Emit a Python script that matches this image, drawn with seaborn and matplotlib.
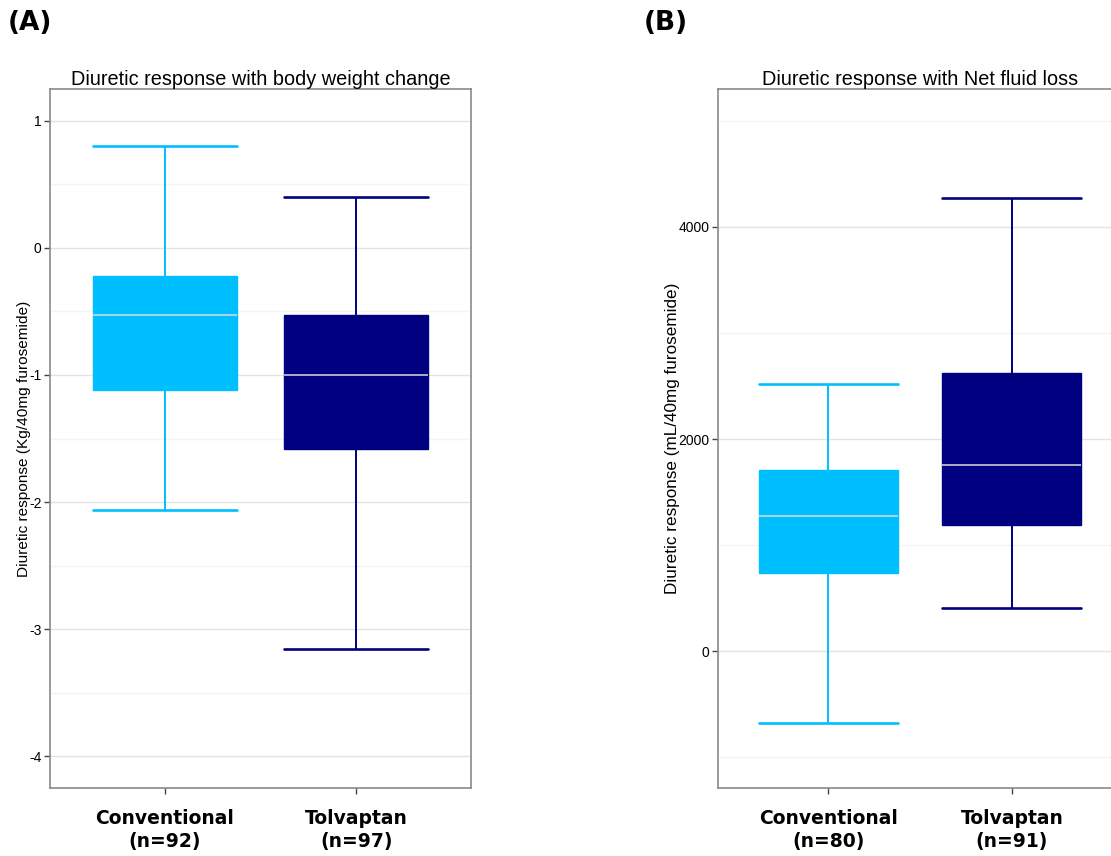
import seaborn as sns
import matplotlib.pyplot as plt
import pandas as pd
import numpy as np

# datos de las cajas (min, Q1, mediana, Q3, max)
grupos = ["Conventional", "Tolvaptan"]
etiquetas_a = ["Conventional\n(n=92)", "Tolvaptan\n(n=97)"]
etiquetas_b = ["Conventional\n(n=80)", "Tolvaptan\n(n=91)"]
peso_conv = [-2.06, -1.12, -0.53, -0.22, 0.80]
peso_tolv = [-3.16, -1.58, -1.00, -0.53, 0.40]
liq_conv = [-680, 736, 1274, 1712, 2520]
liq_tolv = [406, 1189, 1755, 2623, 4274]
colores = ["#00BFFF", "#000080"]

df_a = pd.DataFrame({"grupo": np.repeat(grupos, 5), "valor": peso_conv + peso_tolv})
df_b = pd.DataFrame({"grupo": np.repeat(grupos, 5), "valor": liq_conv + liq_tolv})

sns.set_style("white")
plt.rcParams['font.family'] = ['Liberation Sans', 'DejaVu Sans']
plt.rcParams['text.color'] = 'black'
plt.rcParams['axes.labelcolor'] = 'black'
plt.rcParams['xtick.color'] = 'black'
plt.rcParams['ytick.color'] = 'black'
plt.rcParams['axes.unicode_minus'] = False

fig = plt.figure(figsize=(11.11, 8.56), dpi=100)
ax1 = fig.add_axes([50 / 1111, 1 - 788 / 856, 421 / 1111, 699 / 856])
ax2 = fig.add_axes([718 / 1111, 1 - 788 / 856, 404 / 1111, 699 / 856])

ancho = 0.755


def caja(ax, df, etiquetas, titulo, ylabel, ylim, mayores, menores, tam_lab, tam_tick):
    sns.boxplot(data=df, x="grupo", y="valor", hue="grupo", palette=colores,
                saturation=1, width=ancho, whis=(0, 100), showfliers=False,
                legend=False, capwidths=ancho, ax=ax)
    for cont, col in zip(ax.containers, colores):
        for b in cont.boxes:
            b.set_edgecolor(col)
            b.set_linewidth(1)
        for l in list(cont.whiskers):
            l.set_color(col)
            l.set_linewidth(1.4)
        for l in list(cont.caps):
            l.set_color(col)
            l.set_linewidth(1.9)
        for l in list(cont.medians):
            l.set_color("#dcdcdc")
            l.set_linewidth(1.1)
    ax.set_xlim(-0.6, 1.6)
    ax.set_ylim(*ylim)
    ax.set_yticks(mayores)
    ax.set_yticks(menores, minor=True)
    ax.yaxis.grid(True, which="major", color="#e3e3e3", linewidth=1)
    ax.yaxis.grid(True, which="minor", color="#f4f4f4", linewidth=1)
    ax.set_axisbelow(True)
    ax.set_xticks([0, 1])
    ax.set_xticklabels(etiquetas, fontsize=13.5, fontweight="bold",
                       family="DejaVu Sans", linespacing=1.25)
    ax.tick_params(axis="y", which="major", left=True, length=4, width=1,
                   color="#444444", labelsize=tam_tick, pad=2)
    ax.tick_params(axis="y", which="minor", left=False)
    ax.tick_params(axis="x", bottom=True, length=4, width=1,
                   color="#444444", pad=11)
    for s in ax.spines.values():
        s.set_color("#8a8a8a")
        s.set_linewidth(1.2)
    ax.set_xlabel("")
    ax.set_ylabel(ylabel, fontsize=tam_lab, labelpad=-1)
    ax.set_title(titulo, fontsize=14.3, pad=3)


caja(ax1, df_a, etiquetas_a, "Diuretic response with body weight change",
     "Diuretic response (Kg/40mg furosemide)", (-4.25, 1.25),
     [-4, -3, -2, -1, 0, 1], [-3.5, -2.5, -1.5, -0.5, 0.5], 11.1, 10)
caja(ax2, df_b, etiquetas_b, "Diuretic response with Net fluid loss",
     "Diuretic response (mL/40mg furosemide)", (-1290, 5300),
     [0, 2000, 4000], [-1000, 1000, 3000, 5000], 12.3, 10)

fig.text(8 / 1111, 1 - 23 / 856, "(A)", fontsize=19, fontweight="bold",
         family="DejaVu Sans", va="center")
fig.text(644 / 1111, 1 - 23 / 856, "(B)", fontsize=19, fontweight="bold",
         family="DejaVu Sans", va="center")

plt.savefig("out.png", dpi=100)
